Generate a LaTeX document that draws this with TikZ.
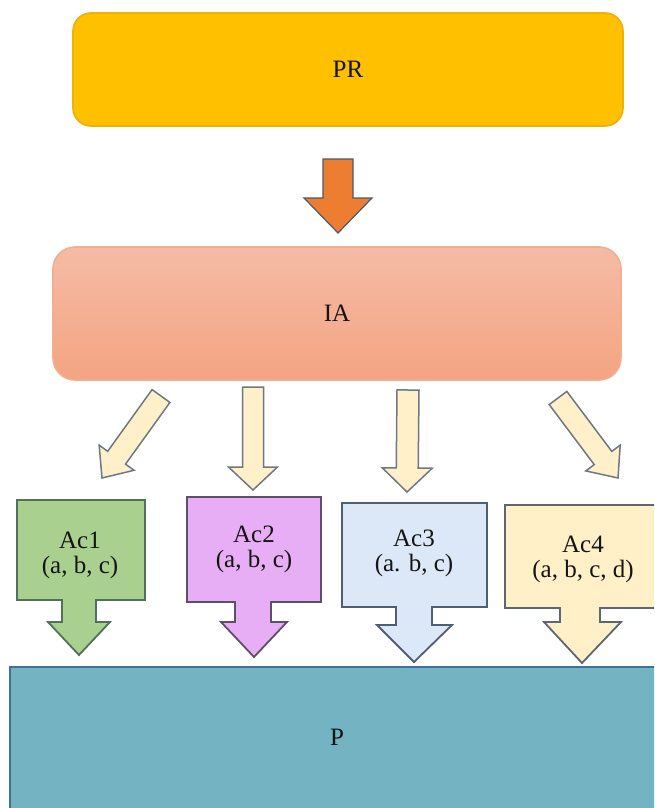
\documentclass[tikz,border=0pt]{standalone}
\usepackage{fontspec}
\setmainfont{Liberation Serif}
\usetikzlibrary{calc}
\definecolor{prfill}{HTML}{FFC000}
\definecolor{prdraw}{HTML}{EFB000}
\definecolor{iatop}{HTML}{F5BBA6}
\definecolor{iabot}{HTML}{F4A481}
\definecolor{iadraw}{HTML}{F2AE90}
\definecolor{orfill}{HTML}{ED7D31}
\definecolor{ordraw}{HTML}{4A5A70}
\definecolor{crfill}{HTML}{FFF0C9}
\definecolor{crdraw}{HTML}{6E7884}
\definecolor{gfill}{HTML}{A9D08E}
\definecolor{gdraw}{HTML}{52705A}
\definecolor{vfill}{HTML}{E8AEF5}
\definecolor{vdraw}{HTML}{5C5068}
\definecolor{bfill}{HTML}{DCE8F7}
\definecolor{bdraw}{HTML}{4F5F73}
\definecolor{yfill}{HTML}{FFF0C8}
\definecolor{ydraw}{HTML}{5F6670}
\definecolor{pfill}{HTML}{74B3C1}
\definecolor{pdraw}{HTML}{41709A}
\definecolor{txt}{HTML}{141414}
\newcommand{\blockarrow}[6]{%
  \coordinate (hb) at ($(#3)!#6!(#2)$);
  \draw[#1] ($(#2)!#4!90:(#3)$) -- ($(hb)!#4!90:(#3)$) -- ($(hb)!#5!90:(#3)$)
    -- (#3) -- ($(hb)!#5!-90:(#3)$) -- ($(hb)!#4!-90:(#3)$) -- ($(#2)!#4!-90:(#3)$) -- cycle;
}
\begin{document}
\begin{tikzpicture}[x=1pt,y=-1pt,
  lbl/.style={text=txt,font=\fontsize{25}{25}\selectfont,align=center,inner sep=0pt},
  bigbox/.style={text=txt,font=\fontsize{25}{26}\selectfont,line width=1.6pt,inner sep=0pt},
  orarrow/.style={fill=orfill,draw=ordraw,line width=1.2pt},
  crarrow/.style={fill=crfill,draw=crdraw,line width=1.5pt},
  callout/.style={line width=1.8pt}]
\useasboundingbox (0,0) rectangle (654,808);
\fill[white] (0,0) rectangle (654,808);
\clip (0,0) rectangle (654,808);

% top boxes
\node[bigbox,fill=prfill,draw=prdraw,rounded corners=18pt,minimum width=550pt,minimum height=113pt] (PR) at (348,69.5) {PR};
\node[bigbox,top color=iatop,bottom color=iabot,draw=iadraw,rounded corners=22pt,minimum width=568pt,minimum height=133pt] (IA) at (337,313.5) {IA};

% orange arrow PR -> IA
\coordinate (o1) at (338,159);
\coordinate (o2) at (338,233);
\blockarrow{orarrow}{o1}{o2}{15pt}{34pt}{35pt}

% cream arrows IA -> Ac
\coordinate (a1s) at (161,396); \coordinate (a1e) at (102,478);
\coordinate (a2s) at (253,387); \coordinate (a2e) at (253,490);
\coordinate (a3s) at (408,390); \coordinate (a3e) at (407,492);
\coordinate (a4s) at (558,398); \coordinate (a4e) at (618,478);
\blockarrow{crarrow}{a1s}{a1e}{11pt}{21.5pt}{25pt}
\blockarrow{crarrow}{a2s}{a2e}{10.5pt}{24.5pt}{23pt}
\blockarrow{crarrow}{a3s}{a3e}{11pt}{25pt}{24pt}
\blockarrow{crarrow}{a4s}{a4e}{11pt}{21.5pt}{25pt}

% bottom box P
\path[fill=pfill,draw=pdraw,line width=1.8pt] (10,667) rectangle (680,830);
\node[bigbox] (P) at (337,737) {P};

% callouts
\path[callout,fill=gfill,draw=gdraw] (17,500) -- (145,500) -- (145,600) -- (96,600) -- (96,622) -- (110,622)
  -- (79,655) -- (48,622) -- (62,622) -- (62,600) -- (17,600) -- cycle;
\path[callout,fill=vfill,draw=vdraw] (187,497) -- (321,497) -- (321,602) -- (271,602) -- (271,622) -- (287,622)
  -- (254,657) -- (221,622) -- (235,622) -- (235,602) -- (187,602) -- cycle;
\path[callout,fill=bfill,draw=bdraw] (342,503) -- (487,503) -- (487,607) -- (432,607) -- (432,625) -- (452,625)
  -- (414,662) -- (377,625) -- (396,625) -- (396,607) -- (342,607) -- cycle;
\path[callout,fill=yfill,draw=ydraw] (505,505) -- (660,505) -- (660,608) -- (600,608) -- (600,622) -- (621,622)
  -- (582,663) -- (544,622) -- (560,622) -- (560,608) -- (505,608) -- cycle;

\node[lbl] (ac1) at (80,555) {Ac1\\(a, b, c)};
\node[lbl] (ac2) at (254,549) {Ac2\\(a, b, c)};
\node[lbl] (ac3) at (414,553) {Ac3\\(a. b, c)};
\node[lbl] (ac4) at (583,559) {Ac4\\(a, b, c, d)};
\end{tikzpicture}
\end{document}
